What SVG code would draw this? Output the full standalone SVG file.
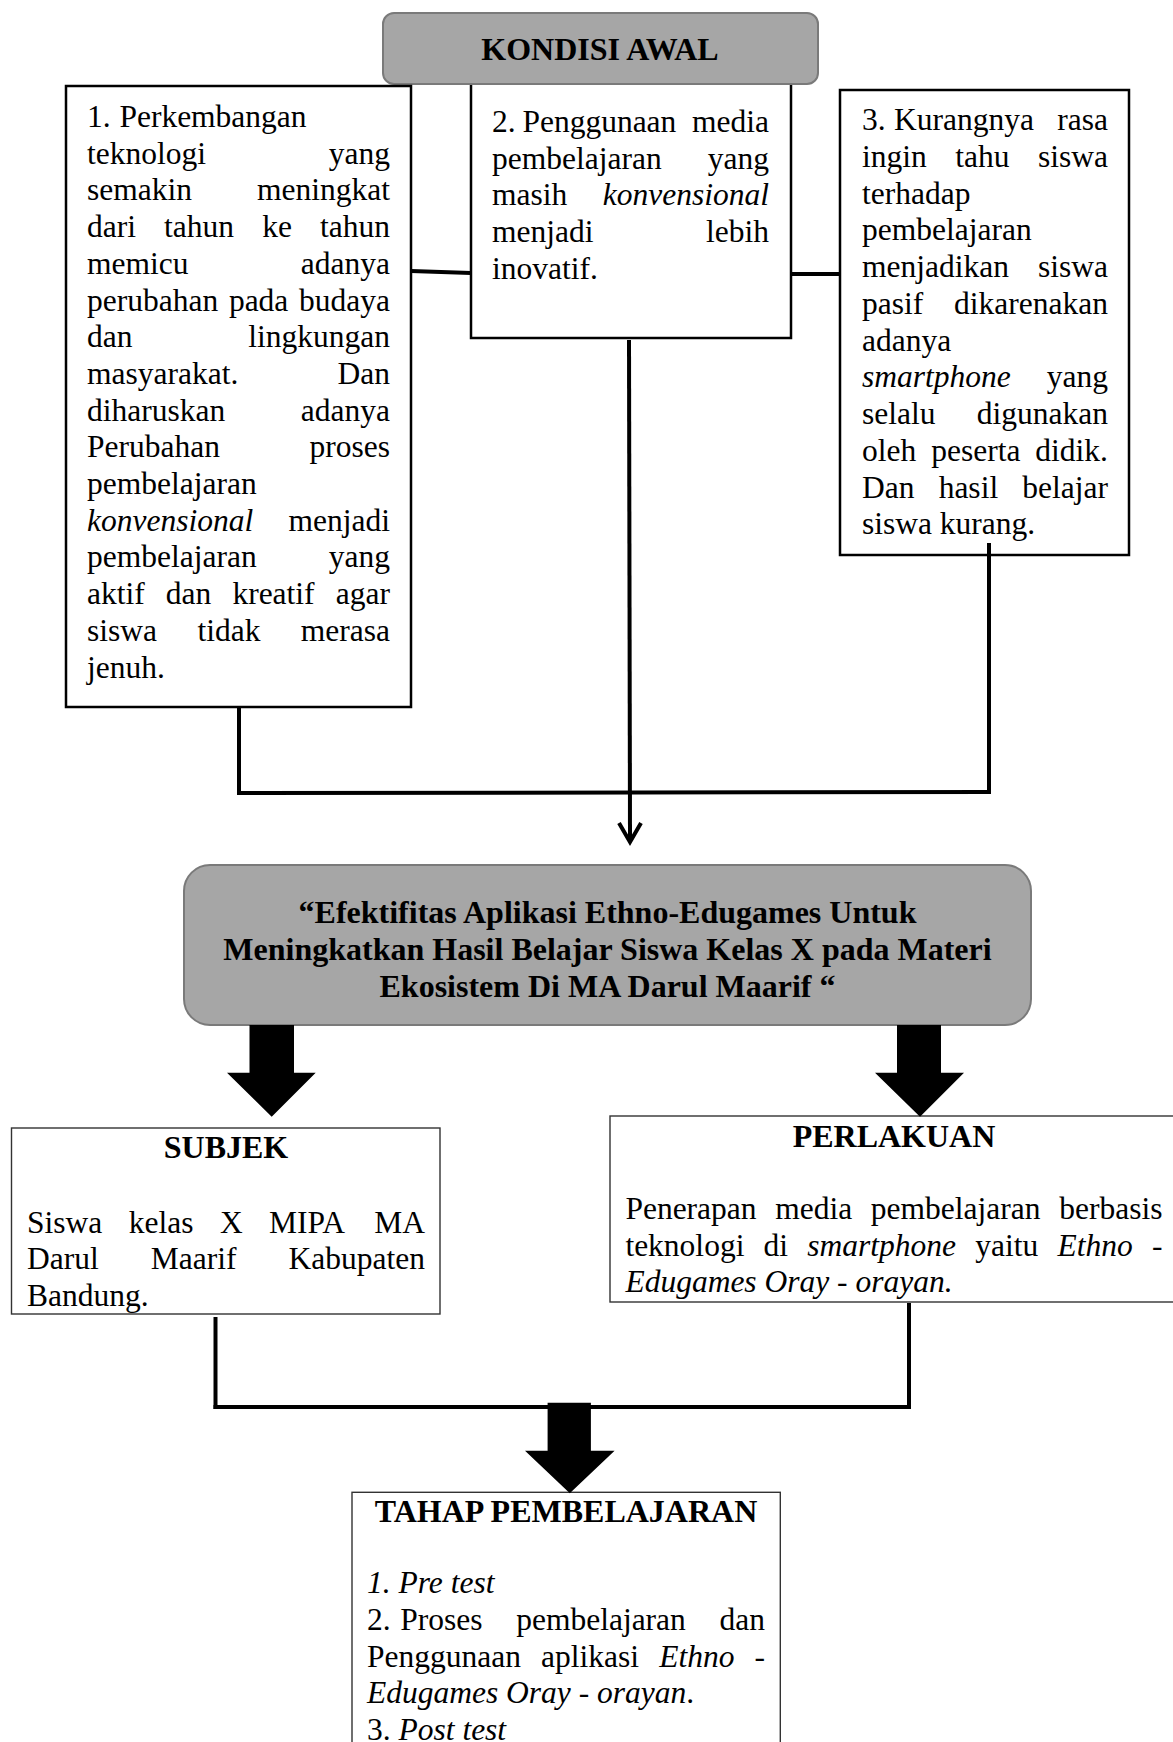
<svg xmlns="http://www.w3.org/2000/svg" width="1173" height="1742" viewBox="0 0 1173 1742">
<style>
text{font-family:"Liberation Serif","Times New Roman",serif;font-size:31.5px;fill:#000}
.b{font-weight:bold;font-size:32px}
.i{font-style:italic}
.e{text-anchor:end}
.m{text-anchor:middle}
.box{fill:#fff;stroke:#000;stroke-width:2.5}
.thin{fill:#fff;stroke:#333;stroke-width:1.4}
.gray{fill:#a6a6a6;stroke:#7a7a7a;stroke-width:2}
.ln{fill:none;stroke:#000;stroke-width:4}
.blk{fill:#000}
</style>
<rect width="1173" height="1742" fill="#fff"/>

<g id="box2">
<rect class="box" x="471" y="80" width="320" height="258"/>
<text x="492" y="132">2.</text><text x="522.4" y="132">Penggunaan</text><text class="e" x="769" y="132">media</text>
<text x="492" y="168.7">pembelajaran</text><text class="e" x="769" y="168.7">yang</text>
<text x="492" y="205.4">masih</text><text class="e i" x="769" y="205.4">konvensional</text>
<text x="492" y="242.1">menjadi</text><text class="e" x="769" y="242.1">lebih</text>
<text x="492" y="278.8">inovatif.</text>
</g>

<g id="kondisi-awal">
<rect class="gray" x="383" y="13" width="435" height="71" rx="11"/>
<text class="b m" x="600" y="60">KONDISI AWAL</text>
</g>

<g id="box1">
<rect class="box" x="66" y="86" width="345" height="621"/>
<text x="87" y="127">1.</text><text x="119.4" y="127">Perkembangan</text>
<text x="87" y="163.7">teknologi</text><text class="e" x="390" y="163.7">yang</text>
<text x="87" y="200.4">semakin</text><text class="e" x="390" y="200.4">meningkat</text>
<text x="87" y="237.1">dari</text><text x="164.1" y="237.1">tahun</text><text x="262.2" y="237.1">ke</text><text class="e" x="390" y="237.1">tahun</text>
<text x="87" y="273.8">memicu</text><text class="e" x="390" y="273.8">adanya</text>
<text x="87" y="310.5">perubahan</text><text x="228.9" y="310.5">pada</text><text class="e" x="390" y="310.5">budaya</text>
<text x="87" y="347.2">dan</text><text class="e" x="390" y="347.2">lingkungan</text>
<text x="87" y="383.9">masyarakat.</text><text class="e" x="390" y="383.9">Dan</text>
<text x="87" y="420.6">diharuskan</text><text class="e" x="390" y="420.6">adanya</text>
<text x="87" y="457.3">Perubahan</text><text class="e" x="390" y="457.3">proses</text>
<text x="87" y="494">pembelajaran</text>
<text class="i" x="87" y="530.7">konvensional</text><text class="e" x="390" y="530.7">menjadi</text>
<text x="87" y="567.4">pembelajaran</text><text class="e" x="390" y="567.4">yang</text>
<text x="87" y="604.1">aktif</text><text x="165.8" y="604.1">dan</text><text x="232.4" y="604.1">kreatif</text><text class="e" x="390" y="604.1">agar</text>
<text x="87" y="640.8">siswa</text><text x="197.4" y="640.8">tidak</text><text class="e" x="390" y="640.8">merasa</text>
<text x="87" y="677.5">jenuh.</text>
</g>

<g id="box3">
<rect class="box" x="840" y="90" width="289" height="465"/>
<text x="862" y="130">3.</text><text x="894" y="130">Kurangnya</text><text class="e" x="1108" y="130">rasa</text>
<text x="862" y="166.75">ingin</text><text x="955.3" y="166.75">tahu</text><text class="e" x="1108" y="166.75">siswa</text>
<text x="862" y="203.5">terhadap</text>
<text x="862" y="240.25">pembelajaran</text>
<text x="862" y="277">menjadikan</text><text class="e" x="1108" y="277">siswa</text>
<text x="862" y="313.75">pasif</text><text class="e" x="1108" y="313.75">dikarenakan</text>
<text x="862" y="350.5">adanya</text>
<text class="i" x="862" y="387.25">smartphone</text><text class="e" x="1108" y="387.25">yang</text>
<text x="862" y="424">selalu</text><text class="e" x="1108" y="424">digunakan</text>
<text x="862" y="460.75">oleh</text><text x="931.2" y="460.75">peserta</text><text class="e" x="1108" y="460.75">didik.</text>
<text x="862" y="497.5">Dan</text><text x="938.65" y="497.5">hasil</text><text class="e" x="1108" y="497.5">belajar</text>
<text x="862" y="534.25">siswa kurang.</text>
</g>

<g id="judul">
<rect class="gray" x="184" y="865" width="847" height="160" rx="26"/>
<text class="b m" x="607.5" y="923">“Efektifitas Aplikasi Ethno-Edugames Untuk</text>
<text class="b m" x="607.5" y="960">Meningkatkan Hasil Belajar Siswa Kelas X pada Materi</text>
<text class="b m" x="607.5" y="997">Ekosistem Di MA Darul Maarif “</text>
</g>

<g id="subjek">
<rect class="thin" x="11.5" y="1128" width="428.5" height="186"/>
<text class="b m" x="226" y="1158">SUBJEK</text>
<text x="27" y="1232.7">Siswa</text><text x="128.75" y="1232.7">kelas</text><text x="219.9" y="1232.7">X</text><text x="269.05" y="1232.7">MIPA</text><text class="e" x="425" y="1232.7">MA</text>
<text x="27" y="1269.4">Darul</text><text x="150.75" y="1269.4">Maarif</text><text class="e" x="425" y="1269.4">Kabupaten</text>
<text x="27" y="1306.1">Bandung.</text>
</g>

<g id="perlakuan">
<rect class="thin" x="610" y="1116" width="580" height="186"/>
<text class="b m" x="894" y="1146.7">PERLAKUAN</text>
<text x="625.4" y="1219">Penerapan</text><text x="775.2" y="1219">media</text><text x="870.8" y="1219">pembelajaran</text><text class="e" x="1162.5" y="1219">berbasis</text>
<text x="625.4" y="1255.7">teknologi</text><text x="763.6" y="1255.7">di</text><text class="i" x="807.3" y="1255.7">smartphone</text><text x="975.2" y="1255.7">yaitu</text><text class="i" x="1057.4" y="1255.7">Ethno</text><text class="e" x="1162.5" y="1255.7">-</text>
<text class="i" x="625.4" y="1292.4">Edugames Oray - orayan.</text>
</g>

<g id="tahap">
<rect class="thin" x="352" y="1492.3" width="428.3" height="280"/>
<text class="b m" x="566" y="1521.7">TAHAP PEMBELAJARAN</text>
<text class="i" x="367" y="1593.3">1. Pre test</text>
<text x="367" y="1630">2.</text><text x="400.3" y="1630">Proses</text><text x="516.2" y="1630">pembelajaran</text><text class="e" x="765" y="1630">dan</text>
<text x="367" y="1666.7">Penggunaan</text><text x="541.1" y="1666.7">aplikasi</text><text class="i" x="659.2" y="1666.7">Ethno</text><text class="e" x="765" y="1666.7">-</text>
<text x="367" y="1703.4"><tspan class="i">Edugames Oray - orayan</tspan>.</text>
<text x="367" y="1740">3. <tspan class="i">Post test</tspan></text>
</g>

<g id="connectors">
<path class="ln" d="M411 271 L471 273" stroke-width="3.5"/>
<path class="ln" d="M791 274 L841 274" stroke-width="5"/>
<path class="ln" d="M629 340 L630 840"/>
<path class="ln" d="M619 823 L630 842 L641 823" stroke-width="3.5"/>
<path class="ln" d="M239 707 L239 795"/>
<path class="ln" d="M989 543 L989 793"/>
<path class="ln" d="M237 793 L991 792"/>
<path class="ln" d="M215.5 1317 L215.5 1409"/>
<path class="ln" d="M909 1303 L909 1409"/>
<path class="ln" d="M213.5 1407 L911 1407" stroke-width="5"/>
<polygon class="blk" points="249.5,1025 294,1025 294,1072.7 315.7,1072.7 271.7,1116.7 227,1072.7 249.5,1072.7"/>
<polygon class="blk" points="897,1025 941,1025 941,1072.7 964,1072.7 920,1116.7 875,1072.7 897,1072.7"/>
<polygon class="blk" points="547.6,1402.7 590.9,1402.7 590.9,1450.7 614.6,1450.7 569.8,1493.3 525,1450.7 547.6,1450.7"/>
</g>
</svg>
